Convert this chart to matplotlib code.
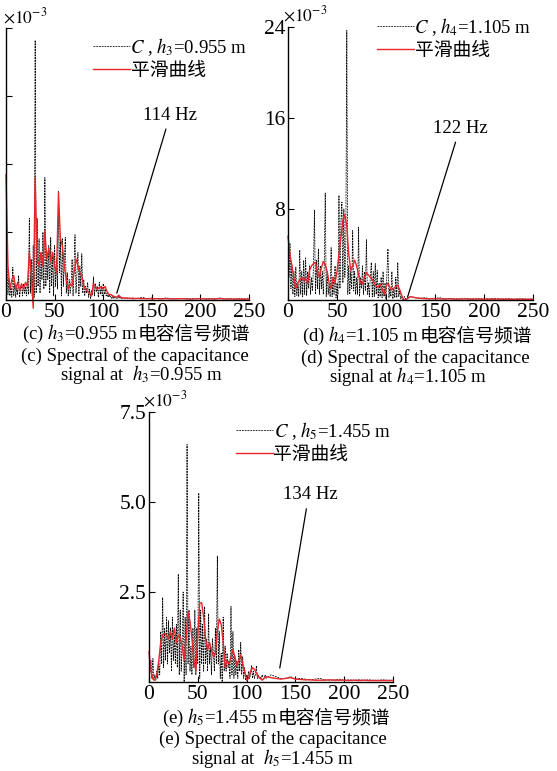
import matplotlib
matplotlib.use('Agg')
import matplotlib.pyplot as plt
from matplotlib.lines import Line2D

plt.rcParams['font.family'] = ['Liberation Serif', 'Noto Sans CJK SC']
plt.rcParams['mathtext.fontset'] = 'stix'

W, H = 557, 771

# ---------------- data (values in units of 1e-3) ----------------
freq_raw = list(range(0, 121)) + list(range(125, 251, 5))
freq_smooth = list(range(0, 121, 2)) + list(range(125, 251, 5))

raw_c_main = [9.0, 3.0, 0.4, 1.6, 0.3, 1.0, 0.2, 2.4, 0.3, 1.2,
              0.2, 0.9, 0.4, 1.8, 0.2, 0.8, 1.1, 0.3, 1.2, 0.5,
              1.0, 0.3, 1.5, 0.4, 6.0, 0.5, 3.0, 0.3, 4.0, 0.2,
              19.1, 0.5, 6.0, 1.0, 4.5, 0.5, 3.5, 1.5, 5.0, 0.8,
              9.0, 1.0, 3.5, 1.5, 4.0, 0.5, 4.6, 1.0, 3.5, 0.3,
              4.0, 1.0, 3.0, 0.8, 8.0, 2.0, 4.5, 0.3, 4.5, 1.0,
              3.0, 4.6, 0.5, 2.0, 0.3, 1.5, 0.5, 1.2, 3.0, 0.3,
              2.5, 4.8, 0.5, 2.0, 3.5, 0.3, 2.5, 1.0, 3.4, 0.5,
              1.5, 0.3, 1.0, 0.5, 1.3, 0.2, 0.8, 0.1, 0.7, 0.4,
              1.7, 0.3, 1.2, 0.6, 1.0, 0.2, 1.3, 0.4, 1.0, 0.3,
              1.2, 0.4, 0.8, 0.3, 0.5, 0.2, 0.4, 0.2, 0.3, 0.1,
              0.3, 0.1, 0.2, 0.1, 0.15, 0.1, 0.3, 0.1, 0.2, 0.1,
              0.15]
raw_c_tail = [0.1, 0.15, 0.1, 0.2, 0.1, 0.15, 0.1, 0.1, 0.15, 0.1,
              0.1, 0.12, 0.1, 0.08, 0.1, 0.12, 0.08, 0.1, 0.1, 0.15,
              0.08, 0.1, 0.08, 0.1, 0.08, 0.1]
smooth_c_main = [9.2, 2.5, 0.8, 1.5, 1.8, 0.8, 1.3, 0.7, 1.2, 0.8,
                 1.3, 1.0, 3.5, 2.0, -0.6, 9.0, 3.0, 2.5, 3.5, 2.5,
                 5.1, 3.0, 3.8, 2.8, 3.5, 2.5, 2.0, 7.9, 4.5, 4.0,
                 2.5, 1.5, 0.8, 1.2, 1.0, 2.0, 3.0, 2.5, 2.0, 1.8,
                 1.0, 0.8, 0.6, 0.5, 0.3, 1.2, 1.0, 0.8, 0.9, 1.0,
                 0.8, 1.0, 0.6, 0.4, 0.4, 0.3, 0.25, 0.2, 0.35, 0.2,
                 0.15]
smooth_c_tail = [0.15, 0.1, 0.12, 0.1, 0.1, 0.08, 0.1, 0.08, 0.1, 0.08,
                 0.08, 0.1, 0.08, 0.07, 0.08, 0.1, 0.07, 0.08, 0.07, 0.1,
                 0.07, 0.08, 0.07, 0.07, 0.06, 0.06]

raw_d_main = [6.2, 2.0, 5.0, 1.0, 3.0, 0.5, 2.5, 0.3, 2.9, 0.4,
              1.5, 0.3, 4.4, 0.5, 2.5, 0.3, 3.5, 0.5, 3.7, 0.4,
              2.5, 1.0, 3.0, 0.5, 2.0, 0.8, 3.0, 7.9, 0.5, 3.5,
              1.0, 4.5, 0.5, 3.0, 1.0, 2.5, 0.5, 3.0, 9.4, 0.3,
              2.5, 0.5, 1.5, 0.3, 4.6, 0.3, 2.0, 0.5, 3.0, 0.2,
              1.5, 0.5, 9.2, 1.0, 7.0, 8.6, 1.5, 8.0, 2.0, 5.0,
              23.7, 0.5, 3.0, 0.5, 2.5, 1.0, 6.1, 0.8, 2.5, 0.5,
              2.0, 0.5, 6.4, 0.3, 2.0, 1.0, 3.0, 0.5, 2.5, 0.8,
              5.3, 0.5, 1.5, 0.3, 2.0, 3.3, 0.3, 2.5, 0.3, 3.2,
              0.5, 2.6, 0.2, 1.5, 0.3, 2.0, 0.2, 2.5, 0.3, 1.5,
              0.1, 2.5, 4.5, 0.2, 1.0, 0.3, 2.5, 0.1, 1.0, 0.2,
              2.0, 0.2, 3.3, 0.3, 0.8, 0.1, 0.3, 0.05, 0.1, 0.3,
              0.1]
raw_d_tail = [0.3, 0.2, 0.15, 0.2, 0.1, 0.15, 0.2, 0.1, 0.15, 0.1,
              0.1, 0.15, 0.1, 0.1, 0.12, 0.1, 0.1, 0.15, 0.1, 0.1,
              0.12, 0.08, 0.1, 0.1, 0.08, 0.1]
smooth_d_main = [5.6, 4.0, 3.0, 2.0, 1.0, 1.5, 1.8, 2.0, 1.7, 1.9,
                 1.5, 2.6, 3.0, 3.2, 3.3, 2.5, 2.0, 2.8, 3.4, 3.1,
                 2.5, 1.5, 1.0, 2.0, 1.5, 2.5, 4.0, 5.5, 7.0, 7.5,
                 6.5, 4.0, 2.6, 3.0, 3.5, 3.0, 2.2, 1.5, 1.4, 2.0,
                 2.4, 2.2, 2.0, 1.8, 1.5, 1.2, 1.15, 1.4, 1.0, 0.5,
                 1.2, 1.5, 1.1, 0.9, 1.05, 1.2, 1.3, 0.9, 0.4, 0.05,
                 0.0]
smooth_d_tail = [0.3, 0.2, 0.15, 0.12, 0.1, 0.1, 0.1, 0.08, 0.1, 0.08,
                 0.08, 0.1, 0.08, 0.08, 0.08, 0.07, 0.08, 0.07, 0.08, 0.07,
                 0.07, 0.06, 0.07, 0.06, 0.06, 0.06]

raw_e_main = [0.8, 0.3, 0.6, 0.1, 0.65, 0.05, 0.2, 0.05, 0.3, 0.1,
              0.5, 0.2, 1.4, 0.5, 2.35, 0.4, 1.5, 0.6, 1.8, 0.5,
              1.7, 0.8, 1.5, 0.3, 1.8, 0.6, 1.3, 0.5, 1.6, 0.4,
              3.0, 0.2, 2.0, 0.3, 1.0, 2.5, 0.0, 1.8, 0.2, 6.6,
              0.5, 2.0, 0.3, 1.0, 0.2, 1.5, 0.4, 2.0, 0.2, 1.5,
              0.5, 5.25, 0.1, 2.0, 0.5, 1.6, 0.3, 2.1, 0.5, 1.2,
              0.3, 1.9, 0.5, 1.0, 0.2, 1.2, 0.8, 0.3, 1.5, 0.5,
              3.5, 0.5, 1.4, 0.1, 0.8, 0.0, 1.8, 0.3, 1.0, 0.3,
              0.8, 0.4, 0.6, 0.1, 2.1, 0.2, 1.4, 0.1, 0.7, 0.2,
              0.6, 0.1, 0.9, 0.3, 1.1, 0.2, 0.7, 0.1, 0.4, 0.05,
              0.2, 0.1, 0.3, 0.1, 0.2, 0.45, 0.1, 0.3, 0.1, 0.2,
              0.45, 0.1, 0.2, 0.1, 0.15, 0.1, 0.2, 0.1, 0.1, 0.2,
              0.1]
raw_e_tail = [0.2, 0.15, 0.1, 0.1, 0.15, 0.08, 0.1, 0.08, 0.06, 0.08,
              0.1, 0.06, 0.05, 0.06, 0.08, 0.05, 0.06, 0.05, 0.06, 0.05,
              0.06, 0.05, 0.05, 0.06, 0.05, 0.05]
smooth_e_main = [0.83, 0.3, 0.08, 0.05, 0.2, 0.6, 1.1, 1.3, 1.35, 1.3,
                 1.2, 1.4, 1.2, 1.5, 1.1, 1.3, 1.25, 1.0, 0.6, 1.2,
                 1.95, 1.7, 1.2, 0.6, 0.3, 1.3, 2.2, 2.2, 1.8, 1.2,
                 0.9, 1.1, 0.9, 0.7, 0.8, 1.4, 1.75, 1.6, 1.1, 0.4,
                 0.6, 0.5, 0.7, 0.9, 0.7, 0.45, 0.6, 0.75, 0.5, 0.3,
                 0.05, 0.1, 0.3, 0.4, 0.35, 0.25, 0.15, 0.1, 0.05, 0.1,
                 0.15]
smooth_e_tail = [0.12, 0.1, 0.08, 0.1, 0.12, 0.08, 0.07, 0.06, 0.06, 0.05,
                 0.05, 0.05, 0.06, 0.05, 0.05, 0.05, 0.04, 0.05, 0.04, 0.05,
                 0.04, 0.04, 0.04, 0.04, 0.04, 0.04]

x_ticks = [0, 50, 100, 150, 200, 250]
y_ticks_c = [5, 10, 15, 20]
y_ticks_d = [8, 16, 24]
y_labels_d = ['8', '16', '24']
y_ticks_e = [2.5, 5.0, 7.5]
y_labels_e = ['2.5', '5.0', '7.5']

legend_c = r'$C$ , $h_3$=0.955 m'
legend_d = r'$C$ , $h_4$=1.105 m'
legend_e = r'$C$ , $h_5$=1.455 m'
legend_smooth = '平滑曲线'

cut_c, cut_d, cut_e = 114, 122, 134

RED = '#e8262b'
DASH = (0, (2.4, 1.2))
BLW = 0.55
TXT = 13.5

fig = plt.figure(figsize=(W / 100, H / 100), dpi=100)


def px_axes(l, t, r, b):
    return fig.add_axes([l / W, 1 - b / H, (r - l) / W, (b - t) / H])


def style(ax, ymax, yticks, ylabels):
    ax.set_xlim(0, 250)
    ax.set_ylim(0, ymax)
    for s in ['top', 'right']:
        ax.spines[s].set_visible(False)
    for s in ['left', 'bottom']:
        ax.spines[s].set_linewidth(1.0)
    ax.set_xticks(x_ticks)
    ax.set_xticklabels([str(t) for t in x_ticks])
    ax.set_yticks(yticks)
    ax.set_yticklabels(ylabels)
    ax.tick_params(direction='in', length=4, width=0.8, labelsize=15.5, pad=2)
    ax.patch.set_alpha(0)


def draw(ax, raw, smooth, leg_label, leg_xy, cut, ann_y, txt_xy):
    ax.plot(freq_raw, raw, color='black', lw=BLW, ls=DASH)
    ax.plot(freq_smooth, smooth, color=RED, lw=1.0, clip_on=False)
    handles = [Line2D([], [], color='black', lw=BLW, ls=DASH),
               Line2D([], [], color=RED, lw=1.0)]
    ax.legend(handles, [leg_label, legend_smooth], loc='upper left',
              bbox_to_anchor=(leg_xy[0] / W, 1 - leg_xy[1] / H),
              bbox_transform=fig.transFigure, frameon=False, borderpad=0,
              borderaxespad=0, handlelength=1.95, handletextpad=0.05,
              labelspacing=0.25, prop={'size': TXT})
    ax.annotate(f'{cut} Hz', xy=(cut, ann_y), xytext=txt_xy, ha='center',
                va='center', fontsize=TXT,
                arrowprops=dict(arrowstyle='-', lw=0.9, color='black',
                                relpos=(0.45, 0), shrinkA=2, shrinkB=0))


def runs_text(cx, cy, runs, size=TXT):
    r = fig.canvas.get_renderer()
    texts = []
    for s, fam in runs:
        kw = {} if fam is None else {'family': fam}
        t = fig.text(0, 1 - cy / H, s, ha='left', va='baseline', fontsize=size, **kw)
        texts.append(t)
    widths = [t.get_window_extent(r).width for t in texts]
    x = cx - sum(widths) / 2
    for t, w in zip(texts, widths):
        t.set_x(x / W)
        x += w


CJK = ['Noto Sans CJK SC']

# (c)
ax_c = px_axes(6, 28, 249, 300)
style(ax_c, 20, y_ticks_c, ['' for _ in y_ticks_c])
draw(ax_c, raw_c_main + raw_c_tail, smooth_c_main + smooth_c_tail,
     legend_c, (93, 36), cut_c, 0.5, (169, 13.6))
fig.text(3 / W, 1 - 17 / H, r'$\times10^{-3}$', fontsize=12.5, ha='left', va='center')

# (d)
ax_d = px_axes(288, 27, 533, 300)
style(ax_d, 24, y_ticks_d, y_labels_d)
draw(ax_d, raw_d_main + raw_d_tail, smooth_d_main + smooth_d_tail,
     legend_d, (377, 16), cut_d, 0.26, (175.5, 15.1))
fig.text(283 / W, 1 - 15 / H, r'$\times10^{-3}$', fontsize=12.5, ha='left', va='center')

# (e)
ax_e = px_axes(149, 412, 393, 682)
style(ax_e, 7.5, y_ticks_e, y_labels_e)
draw(ax_e, raw_e_main + raw_e_tail, smooth_e_main + smooth_e_tail,
     legend_e, (236, 420), cut_e, 0.39, (165, 5.2))
fig.text(143 / W, 1 - 400 / H, r'$\times10^{-3}$', fontsize=12.5, ha='left', va='center')

# captions
runs_text(136, 339, [(r'(c) $h_3$=0.955 m', None), ('电容信号频谱', CJK)])
fig.text(135 / W, 1 - 361 / H, '(c) Spectral of the capacitance', ha='center', va='baseline', fontsize=TXT)
fig.text(142 / W, 1 - 380 / H, r'signal at  $h_3$=0.955 m', ha='center', va='baseline', fontsize=TXT)

runs_text(417, 341, [(r'(d) $h_4$=1.105 m', None), ('电容信号频谱', CJK)])
fig.text(415 / W, 1 - 363 / H, '(d) Spectral of the capacitance', ha='center', va='baseline', fontsize=TXT)
fig.text(408 / W, 1 - 382 / H, r'signal at $h_4$=1.105 m', ha='center', va='baseline', fontsize=TXT)

runs_text(276, 723, [(r'(e) $h_5$=1.455 m', None), ('电容信号频谱', CJK)])
fig.text(273 / W, 1 - 744 / H, '(e) Spectral of the capacitance', ha='center', va='baseline', fontsize=TXT)
fig.text(273 / W, 1 - 764 / H, r'signal at  $h_5$=1.455 m', ha='center', va='baseline', fontsize=TXT)

fig.savefig('out.png', dpi=100)
